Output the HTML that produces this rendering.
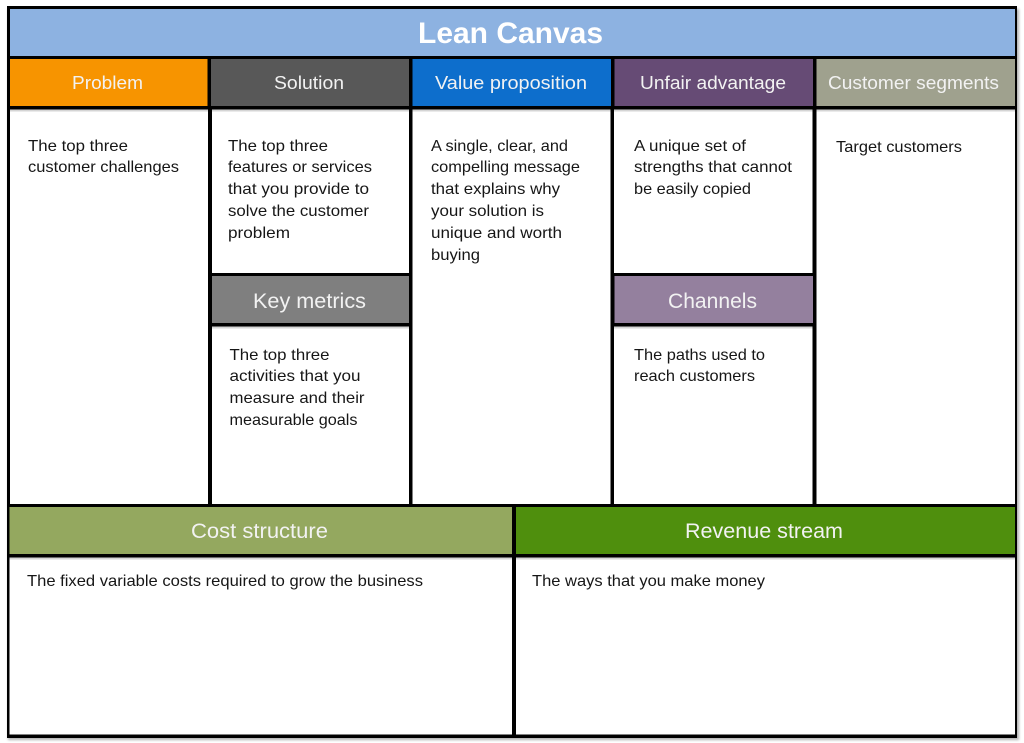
<!DOCTYPE html>
<html lang="en">
<head>
<meta charset="utf-8">
<title>Lean Canvas</title>
<style>
html,body{margin:0;padding:0;background:#fff;width:1024px;height:743px;overflow:hidden}
svg{display:block}
text{font-family:"Liberation Sans",Arial,sans-serif}
.b{font-size:16px;fill:#161616}
.h{font-size:18.5px;fill:#f2f2f2;text-anchor:start}
.k{font-size:21px;fill:#f2f2f2}
.t{font-size:30px;font-weight:bold;fill:#fff}
</style>
</head>
<body>
<svg width="1024" height="743" viewBox="0 0 1024 743" xmlns="http://www.w3.org/2000/svg">
<defs>
<filter id="s" x="-3%" y="-3%" width="106%" height="106%"><feGaussianBlur stdDeviation="1.2"/></filter>
<filter id="soft" x="-1%" y="-1%" width="102%" height="102%"><feGaussianBlur stdDeviation="0.35"/></filter>
</defs>
<rect x="8" y="9" width="1011" height="731" fill="#555" opacity=".45" filter="url(#s)"/>
<g filter="url(#soft)">
<rect x="7" y="6" width="1010" height="732" fill="#000"/>
<!-- title -->
<rect x="10" y="9" width="1005" height="47" fill="#8DB2E1"/>
<!-- headers -->
<rect x="10" y="59" width="197.500" height="47" fill="#F79400"/>
<rect x="211" y="59" width="198" height="47" fill="#595959"/>
<rect x="412.500" y="59" width="198.500" height="47" fill="#0A6ECC"/>
<rect x="614.500" y="59" width="198.500" height="47" fill="#664B74"/>
<rect x="816.500" y="59" width="198.500" height="47" fill="#9FA18E"/>
<!-- body cells -->
<rect x="10" y="109.500" width="198" height="394.500" fill="#fff"/>
<rect x="212" y="109.500" width="197" height="163.500" fill="#fff"/>
<rect x="212" y="326.500" width="197" height="177.500" fill="#fff"/>
<rect x="412.500" y="109.500" width="198" height="394.500" fill="#fff"/>
<rect x="614" y="109.500" width="198.500" height="163.500" fill="#fff"/>
<rect x="614" y="326.500" width="198.500" height="177.500" fill="#fff"/>
<rect x="816.500" y="109.500" width="198.500" height="394.500" fill="#fff"/>
<!-- mid headers -->
<rect x="212" y="276" width="197" height="47" fill="#7F7F7F"/>
<rect x="614.500" y="276" width="198.500" height="47" fill="#94809E"/>
<!-- bottom -->
<rect x="9.500" y="507" width="502.500" height="47" fill="#94A85E"/>
<rect x="516" y="507" width="499" height="47" fill="#4F8F0A"/>
<rect x="9.500" y="557.500" width="502.500" height="177" fill="#fff"/>
<rect x="516" y="557.500" width="499" height="177" fill="#fff"/>
<!-- under-line shadows -->
<g fill="#000" opacity=".16">
<rect x="10" y="109.500" width="1005" height="2"/>
<rect x="212" y="326.500" width="197" height="2"/>
<rect x="614" y="326.500" width="198.500" height="2"/>
<rect x="9.500" y="557.500" width="1005.500" height="2"/>
</g>
<!-- text -->
<text class="t" x="418" y="43" textLength="185" lengthAdjust="spacingAndGlyphs">Lean Canvas</text>
<text class="h" x="72" y="89" textLength="71" lengthAdjust="spacingAndGlyphs">Problem</text>
<text class="h" x="274" y="89" textLength="70" lengthAdjust="spacingAndGlyphs">Solution</text>
<text class="h" x="435" y="89" textLength="152" lengthAdjust="spacingAndGlyphs">Value proposition</text>
<text class="h" x="640" y="89" textLength="146" lengthAdjust="spacingAndGlyphs">Unfair advantage</text>
<text class="h" x="828" y="89" textLength="171" lengthAdjust="spacingAndGlyphs">Customer segments</text>
<text class="k" x="253" y="308" textLength="113" lengthAdjust="spacingAndGlyphs">Key metrics</text>
<text class="k" x="668" y="308" textLength="89" lengthAdjust="spacingAndGlyphs">Channels</text>
<text class="k" x="191" y="538" textLength="137" lengthAdjust="spacingAndGlyphs">Cost structure</text>
<text class="k" x="685" y="538" textLength="158" lengthAdjust="spacingAndGlyphs">Revenue stream</text>

<text class="b" x="28" y="151" textLength="100" lengthAdjust="spacingAndGlyphs">The top three</text>
<text class="b" x="28" y="172" textLength="151" lengthAdjust="spacingAndGlyphs">customer challenges</text>

<text class="b" x="228" y="151" textLength="100" lengthAdjust="spacingAndGlyphs">The top three</text>
<text class="b" x="228" y="172" textLength="144" lengthAdjust="spacingAndGlyphs">features or services</text>
<text class="b" x="228" y="194" textLength="141" lengthAdjust="spacingAndGlyphs">that you provide to</text>
<text class="b" x="228" y="216" textLength="141" lengthAdjust="spacingAndGlyphs">solve the customer</text>
<text class="b" x="228" y="238" textLength="62" lengthAdjust="spacingAndGlyphs">problem</text>

<text class="b" x="431" y="151" textLength="137" lengthAdjust="spacingAndGlyphs">A single, clear, and</text>
<text class="b" x="431" y="172" textLength="149" lengthAdjust="spacingAndGlyphs">compelling message</text>
<text class="b" x="431" y="194" textLength="129" lengthAdjust="spacingAndGlyphs">that explains why</text>
<text class="b" x="431" y="216" textLength="113" lengthAdjust="spacingAndGlyphs">your solution is</text>
<text class="b" x="431" y="238" textLength="131" lengthAdjust="spacingAndGlyphs">unique and worth</text>
<text class="b" x="431" y="260" textLength="49" lengthAdjust="spacingAndGlyphs">buying</text>

<text class="b" x="634" y="151" textLength="112" lengthAdjust="spacingAndGlyphs">A unique set of</text>
<text class="b" x="634" y="172" textLength="158" lengthAdjust="spacingAndGlyphs">strengths that cannot</text>
<text class="b" x="634" y="194" textLength="117" lengthAdjust="spacingAndGlyphs">be easily copied</text>

<text class="b" x="836" y="152" textLength="126" lengthAdjust="spacingAndGlyphs">Target customers</text>

<text class="b" x="229.500" y="360" textLength="100" lengthAdjust="spacingAndGlyphs">The top three</text>
<text class="b" x="229.500" y="381" textLength="131" lengthAdjust="spacingAndGlyphs">activities that you</text>
<text class="b" x="229.500" y="403" textLength="135" lengthAdjust="spacingAndGlyphs">measure and their</text>
<text class="b" x="229.500" y="425" textLength="128" lengthAdjust="spacingAndGlyphs">measurable goals</text>

<text class="b" x="634" y="360" textLength="131" lengthAdjust="spacingAndGlyphs">The paths used to</text>
<text class="b" x="634" y="381" textLength="121" lengthAdjust="spacingAndGlyphs">reach customers</text>

<text class="b" x="27" y="586" textLength="396" lengthAdjust="spacingAndGlyphs">The fixed variable costs required to grow the business</text>
<text class="b" x="532" y="586" textLength="233" lengthAdjust="spacingAndGlyphs">The ways that you make money</text>
</g>
</svg>
</body>
</html>
